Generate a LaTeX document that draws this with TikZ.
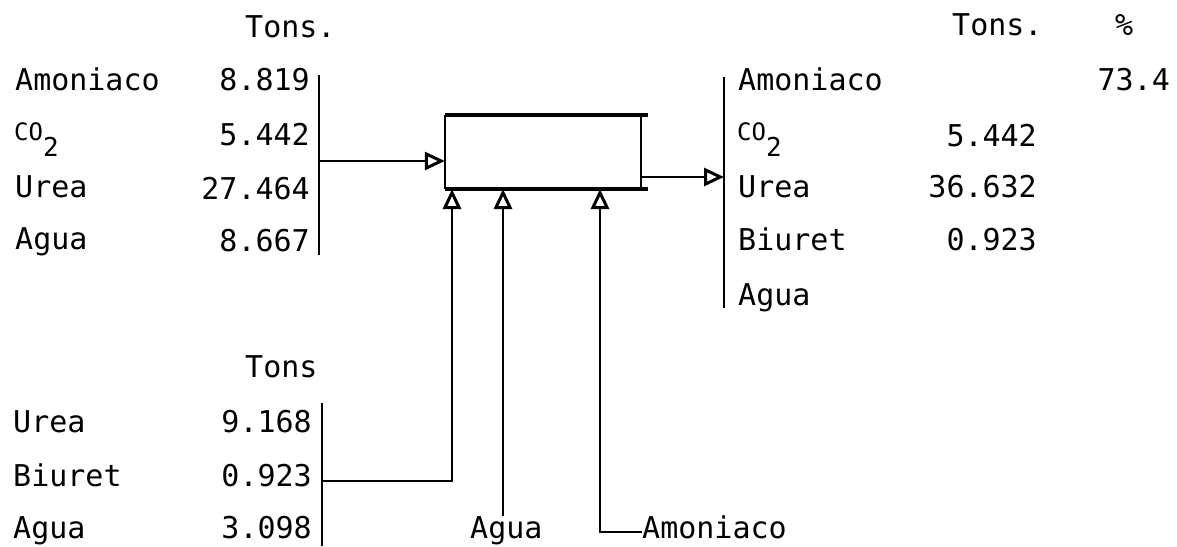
\documentclass[tikz,border=0pt]{standalone}
\usepackage{fontspec}
\setmonofont{DejaVu Sans Mono}
\usetikzlibrary{arrows.meta}
\newcommand{\cotwo}{{\fontsize{24}{28}\selectfont CO}\raisebox{-16pt}{\fontsize{26}{30}\selectfont 2}}
\tikzset{
  txt/.style={font=\ttfamily\fontsize{30}{36}\selectfont, inner sep=0pt, anchor=base west},
  num/.style={txt, anchor=base east},
  bar/.style={black, line width=2pt},
  lid/.style={black, line width=4pt},
  wall/.style={black, line width=2pt},
  flow/.style={black, line width=2.2pt, -{Triangle[open,length=20pt,width=18pt,line width=3pt]}},
}

\begin{document}
\begin{tikzpicture}[x=1pt,y=-1pt]
  \path[use as bounding box] (0,0) rectangle (1177,546);

  % Reactor with the lid and floor running past the right wall.
  \node[draw=none, minimum width=196pt, minimum height=74pt, inner sep=0pt] (reactor) at (543,152) {};
  \draw[wall] (reactor.north west) -- (reactor.south west);
  \draw[wall] (reactor.north east) -- (reactor.south east);
  \draw[lid] (reactor.north west) -- ++(203,0);
  \draw[lid] (reactor.south west) -- ++(203,0);

  % Fresh feed table.
  \node[txt] (tonsA) at (245,37) {Tons.};
  \node[txt] (nh3A) at (15,90) {Amoniaco};
  \node[num] (nh3Av) at (310,90) {8.819};
  \node[txt] (co2A) at (14,140) {\cotwo};
  \node[num] (co2Av) at (310,145) {5.442};
  \node[txt] (ureaA) at (15,197) {Urea};
  \node[num] (ureaAv) at (310,199) {27.464};
  \node[txt] (h2oA) at (15,249) {Agua};
  \node[num] (h2oAv) at (310,251) {8.667};
  \coordinate (barAtop) at (319,75);
  \coordinate (barAbot) at (319,255);
  \draw[bar] (barAtop) -- (barAbot);
  \coordinate (feedA) at (319,161);
  \draw[flow] (feedA) -- (feedA -| reactor.west);

  % Product table.
  \node[txt] (tonsB) at (952,35) {Tons.};
  \node[txt] (pctB) at (1115,35) {\%};
  \node[txt] (nh3B) at (738,90) {Amoniaco};
  \node[num] (nh3Bv) at (1170,90) {73.4};
  \node[txt] (co2B) at (737,140) {\cotwo};
  \node[num] (co2Bv) at (1037,146) {5.442};
  \node[txt] (ureaB) at (738,197) {Urea};
  \node[num] (ureaBv) at (1037,197) {36.632};
  \node[txt] (biuB) at (738,250) {Biuret};
  \node[num] (biuBv) at (1037,250) {0.923};
  \node[txt] (h2oB) at (738,305) {Agua};
  \coordinate (barBtop) at (724,77);
  \coordinate (barBbot) at (724,308);
  \draw[bar] (barBtop) -- (barBbot);
  \coordinate (prodB) at (724,177);
  \draw[flow] (prodB -| reactor.east) -- (prodB);

  % Recycle table.
  \node[txt] (tonsC) at (245,377) {Tons};
  \node[txt] (ureaC) at (13,432) {Urea};
  \node[num] (ureaCv) at (312,432) {9.168};
  \node[txt] (biuC) at (13,486) {Biuret};
  \node[num] (biuCv) at (312,486) {0.923};
  \node[txt] (h2oC) at (13,538) {Agua};
  \node[num] (h2oCv) at (312,538) {3.098};
  \coordinate (barCtop) at (322,403);
  \coordinate (barCbot) at (322,546);
  \draw[bar] (barCtop) -- (barCbot);

  % Streams entering through the floor.
  \coordinate (recC) at (322,481);
  \coordinate (inRec) at (452,189);
  \coordinate (inW) at (503,189);
  \coordinate (inN) at (600,189);
  \draw[flow] (recC) -| (inRec);
  \node[txt] (feedW) at (470,538) {Agua};
  \draw[flow] (feedW.north -| inW) -- (inW);
  \node[txt] (feedN) at (642,538) {Amoniaco};
  \draw[flow] ([yshift=6pt]feedN.base west) -| (inN);
\end{tikzpicture}
\end{document}
